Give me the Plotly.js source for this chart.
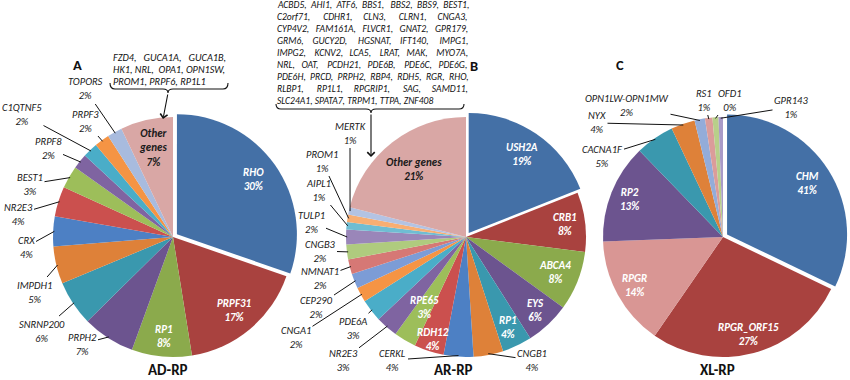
<!DOCTYPE html>
<html><head><meta charset="utf-8">
<script src="https://cdn.plot.ly/plotly-3.0.1.min.js"></script>
<style>html,body{margin:0;padding:0;background:#fff}#chart{width:850px;height:380px}</style>
</head><body><div id="chart"></div>
<script>
// ---------------- DATA ----------------
const adGenes  = ["RHO","PRPF31","RP1","PRPH2","SNRNP200","IMPDH1","CRX","NR2E3","BEST1","PRPF8","C1QTNF5","PRPF3","TOPORS","Other genes"];
const adValues = [30,17,8,7,6,5,4,4,3,2,2,2,2,7];
const adPct    = ["30%","17%","8%","7%","6%","5%","4%","4%","3%","2%","2%","2%","2%","7%"];

const arGenes  = ["USH2A","CRB1","ABCA4","EYS","RP1","CNGB1","CERKL","RDH12","RPE65","NR2E3","PDE6A","CNGA1","CEP290","NMNAT1","CNGB3","TULP1","AIPL1","PROM1","MERTK","Other genes"];
const arValues = [19,8,8,6,4,4,4,4,3,3,3,2,2,2,2,2,1,1,1,21];
const arPct    = ["19%","8%","8%","6%","4%","4%","4%","4%","3%","3%","3%","2%","2%","2%","2%","2%","1%","1%","1%","21%"];

const xlGenes  = ["CHM","RPGR_ORF15","RPGR","RP2","CACNA1F","NYX","OPN1LW-OPN1MW","RS1","OFD1","GPR143"];
const xlValues = [32,27.4,14.7,13.3,5.2,3.2,1.4,1.0,0.8,0.6];   // slice sizes as drawn
const xlPct    = ["41%","27%","14%","13%","5%","4%","2%","1%","0%","1%"]; // printed labels

const adOtherList = ["FZD4, GUCA1A, GUCA1B,","HK1, NRL, OPA1, OPN1SW,","PROM1, PRPF6, RP1L1"];
const arOtherList = [
 "ACBD5, AHI1, ATF6, BBS1, BBS2, BBS9, BEST1,",
 "C2orf71, CDHR1, CLN3, CLRN1, CNGA3,",
 "CYP4V2, FAM161A, FLVCR1, GNAT2, GPR179,",
 "GRM6, GUCY2D, HGSNAT, IFT140, IMPG1,",
 "IMPG2, KCNV2, LCA5, LRAT, MAK, MYO7A,",
 "NRL, OAT, PCDH21, PDE6B, PDE6C, PDE6G,",
 "PDE6H, PRCD, PRPH2, RBP4, RDH5, RGR, RHO,",
 "RLBP1, RP1L1, RPGRIP1, SAG, SAMD11,",
 "SLC24A1, SPATA7, TRPM1, TTPA, ZNF408"];
const panelTitles = ["AD-RP","AR-RP","XL-RP"];
const panelLetters = ["A","B","C"];

// ---------------- STYLE / LAYOUT ----------------
const W = 850, H = 380, PULL = 0.04, R = 120;
const FONT = "Carlito, Lato, sans-serif";
const centers = [[173,237],[466,237],[723,237]];
const adColors = ["#4470A6","#A9423F","#8BAA4C","#6C548F","#3A98AE","#DE8139","#4D80C4","#CB504E","#9DBE5A","#7F64A1","#4AADC8","#F59444","#A8BBDE","#D9A7A5"];
const arColors = ["#4470A6","#A9423F","#8BAA4C","#6C548F","#3A98AE","#DE8139","#4D80C4","#CB504E","#9DBE5A","#7F64A1","#4AADC8","#F59444","#7C9CD6","#D67875","#AFCB7E","#9A86B9","#6FBDD3","#F8AE73","#B3C3E3","#D9A7A5"];
const xlColors = ["#4470A6","#A9423F","#D99694","#6C548F","#3A98AE","#DE8139","#93ACD9","#DB9C9A","#B8CF8A","#A99BC8"];

const adInside = {"RHO":.82,"PRPF31":.8,"RP1":.83,"Other genes":.76};
const arInside = {"USH2A":.83,"CRB1":.83,"ABCA4":.8,"EYS":.84,"RP1":.83,"RDH12":.9,"RPE65":.68,"Other genes":.71};
const xlInside = {"CHM":.83,"RPGR_ORF15":.84,"RPGR":.84,"RP2":.84};
const adOutside = {"PRPH2":[82,344],"SNRNP200":[42,331],"IMPDH1":[34,292],"CRX":[26,247],"NR2E3":[18,214],"BEST1":[30,184],"PRPF8":[48,148],"C1QTNF5":[22,114],"PRPF3":[85,121],"TOPORS":[85,89]};
const arOutside = {"CNGB1":[532,360],"CERKL":[393,360],"NR2E3":[343,360],"PDE6A":[353,328],"CNGA1":[296,337],"CEP290":[316,307],"NMNAT1":[320,278],"CNGB3":[320,251],"TULP1":[311,222],"AIPL1":[318,190],"PROM1":[322,161],"MERTK":[350,133]};
const xlOutside = {"CACNA1F":[602,156],"NYX":[597,123],"OPN1LW-OPN1MW":[627,105],"RS1":[704,100],"OFD1":[729,100],"GPR143":[791,107]};

const px = x => x / W, py = y => 1 - y / H;

function domainFor(c){
  const half = R * (1 + PULL);
  return {x:[(c[0]-half)/W,(c[0]+half)/W], y:[1-(c[1]+half)/H, 1-(c[1]-half)/H]};
}
function pieTrace(genes, values, colors, c){
  return {type:'pie', labels:genes, values:values, sort:false, direction:'clockwise', rotation:0,
    marker:{colors:colors, line:{width:0}}, textinfo:'none', hoverinfo:'label+percent',
    pull: values.map((v,i)=> i===0 ? PULL : 0), domain: domainFor(c), showlegend:false};
}
const traces = [
  pieTrace(adGenes, adValues, adColors, centers[0]),
  pieTrace(arGenes, arValues, arColors, centers[1]),
  pieTrace(xlGenes, xlValues, xlColors, centers[2])
];

const annotations = [];
panelTitles.forEach((t,i)=>{
  const tx = [168,453,717][i];
  annotations.push({xref:'paper',yref:'paper',x:px(tx),y:0,text:'<b>'+t+'</b>',showarrow:false,borderpad:0,
    font:{family:FONT,size:15,color:'#111'},xanchor:'center',yanchor:'bottom'});
});
panelLetters.forEach((t,i)=>{
  const p = [[77,65],[474,66],[620,65]][i];
  annotations.push({xref:'paper',yref:'paper',x:px(p[0]),y:py(p[1]),text:'<b>'+t+'</b>',showarrow:false,borderpad:0,
    font:{family:FONT,size:14.5,color:'#111'},xanchor:'center',yanchor:'middle'});
});

// justified text lines: one annotation per line, word gaps filled with no-break spaces
function justify(lines, x0, x1, y0, dy, maxSize){
  const ctx = document.createElement('canvas').getContext('2d');
  let size = maxSize;
  for(; size > 7; size -= 0.25){
    ctx.font = 'italic ' + size + 'px ' + FONT;
    const sp = ctx.measureText('\u00a0').width;
    const ok = lines.slice(0,-1).every(line=>{
      const words = line.trim().split(/\s+/);
      const tot = words.reduce((a,w)=>a+ctx.measureText(w).width,0);
      return tot + sp*(words.length-1) <= (x1-x0);
    });
    if (ok) break;
  }
  ctx.font = 'italic ' + size + 'px ' + FONT;
  const sp = ctx.measureText('\u00a0').width;
  lines.forEach((line, li)=>{
    const words = line.trim().split(/\s+/);
    const total = words.reduce((a,w)=>a+ctx.measureText(w).width,0);
    const last = li === lines.length-1;
    let txt = words[0];
    if (last) {
      txt = words.join('\u00a0');
    } else {
      const gapPx = (x1-x0-total)/Math.max(1,words.length-1);
      let err = 0;
      for (let k=1;k<words.length;k++){
        const want = gapPx/sp + err;
        const n = Math.max(1, Math.round(want));
        err = want - n;
        txt += '\u00a0'.repeat(n) + words[k];
      }
    }
    annotations.push({xref:'paper',yref:'paper',x:px(x0),y:py(y0+li*dy),text:'<i>'+txt+'</i>',showarrow:false,
      xanchor:'left',yanchor:'middle',borderpad:0,font:{family:FONT,size:size,color:'#111'}});
  });
}
justify(adOtherList, 112, 224, 57, 12.4, 10.5);
justify(arOtherList, 276, 467, 5, 12, 9.6);

const shapes = [];
function bracket(x0, x1, xm, yb, h){
  const P = (x,y)=> px(x).toFixed(5)+','+py(y).toFixed(5);
  const path = 'M'+P(x0,yb-h)+' Q'+P(x0,yb)+' '+P(x0+5,yb)+' L'+P(xm-5,yb)+' Q'+P(xm,yb)+' '+P(xm,yb+4)+
    ' Q'+P(xm,yb)+' '+P(xm+5,yb)+' L'+P(x1-5,yb)+' Q'+P(x1,yb)+' '+P(x1,yb-h);
  shapes.push({type:'path',xref:'paper',yref:'paper',path:path,line:{color:'#111',width:1.1}});
}
bracket(110,228,168,89,6);
bracket(276,464,371,109,5);
annotations.push({xref:'paper',yref:'paper',x:px(163),y:py(119),ax:168-163,ay:93-119,text:'',showarrow:true,arrowhead:4,arrowsize:1.3,arrowwidth:1.1,arrowcolor:'#111'});
annotations.push({xref:'paper',yref:'paper',x:px(371),y:py(157),ax:0,ay:113-157,text:'',showarrow:true,arrowhead:4,arrowsize:1.3,arrowwidth:1.1,arrowcolor:'#111'});

const layout = {width:W,height:H,margin:{l:0,r:0,t:0,b:0},paper_bgcolor:'#fff',plot_bgcolor:'#fff',
  showlegend:false,annotations:annotations,shapes:shapes,font:{family:FONT}};

function sliceLabels(gd, ti, genes, values, pct, inside, outside){
  const cd = gd.calcdata && gd.calcdata[ti] ? gd.calcdata[ti][0] : null;
  const cx = (cd && cd.cx!=null) ? cd.cx : centers[ti][0];
  const cy = (cd && cd.cy!=null) ? cd.cy : centers[ti][1];
  const r  = (cd && cd.r) ? cd.r : R;
  const total = values.reduce((a,b)=>a+b,0);
  let cum = 0;
  const out = [];
  genes.forEach((g,i)=>{
    const a = (cum + values[i]/2) / total * 2 * Math.PI;
    cum += values[i];
    const sx = Math.sin(a), sy = -Math.cos(a);
    if (inside[g] !== undefined){
      const d = inside[g] * r;
      const dark = g === 'Other genes';
      let txt = g + '<br>' + pct[i];
      if (dark && ti === 0) txt = 'Other<br>genes<br>' + pct[i];
      out.push({xref:'paper',yref:'paper',x:px(cx+d*sx),y:py(cy+d*sy),text:'<b><i>'+txt+'</i></b>',showarrow:false,
        xanchor:'center',yanchor:'middle',font:{family:FONT,size:11,color: dark ? '#1a1a1a' : '#ffffff'}});
    } else if (outside[g]){
      const tx = cx + r*0.99*sx, ty = cy + r*0.99*sy;
      const p = outside[g];
      out.push({xref:'paper',yref:'paper',x:px(tx),y:py(ty),ax:p[0]-tx,ay:p[1]-ty,text:'<i>'+g+'<br>'+pct[i]+'</i>',
        showarrow:true,arrowhead:0,arrowwidth:1,arrowcolor:'#111',standoff:0,
        font:{family:FONT,size:10.5,color:'#1a1a1a'}});
    }
  });
  return out;
}

Plotly.newPlot('chart', traces, layout, {staticPlot:true, displayModeBar:false}).then(gd=>{
  const extra = [].concat(
    sliceLabels(gd,0,adGenes,adValues,adPct,adInside,adOutside),
    sliceLabels(gd,1,arGenes,arValues,arPct,arInside,arOutside),
    sliceLabels(gd,2,xlGenes,xlValues,xlPct,xlInside,xlOutside));
  return Plotly.relayout(gd, {annotations: annotations.concat(extra)});
});
</script>
</body></html>
